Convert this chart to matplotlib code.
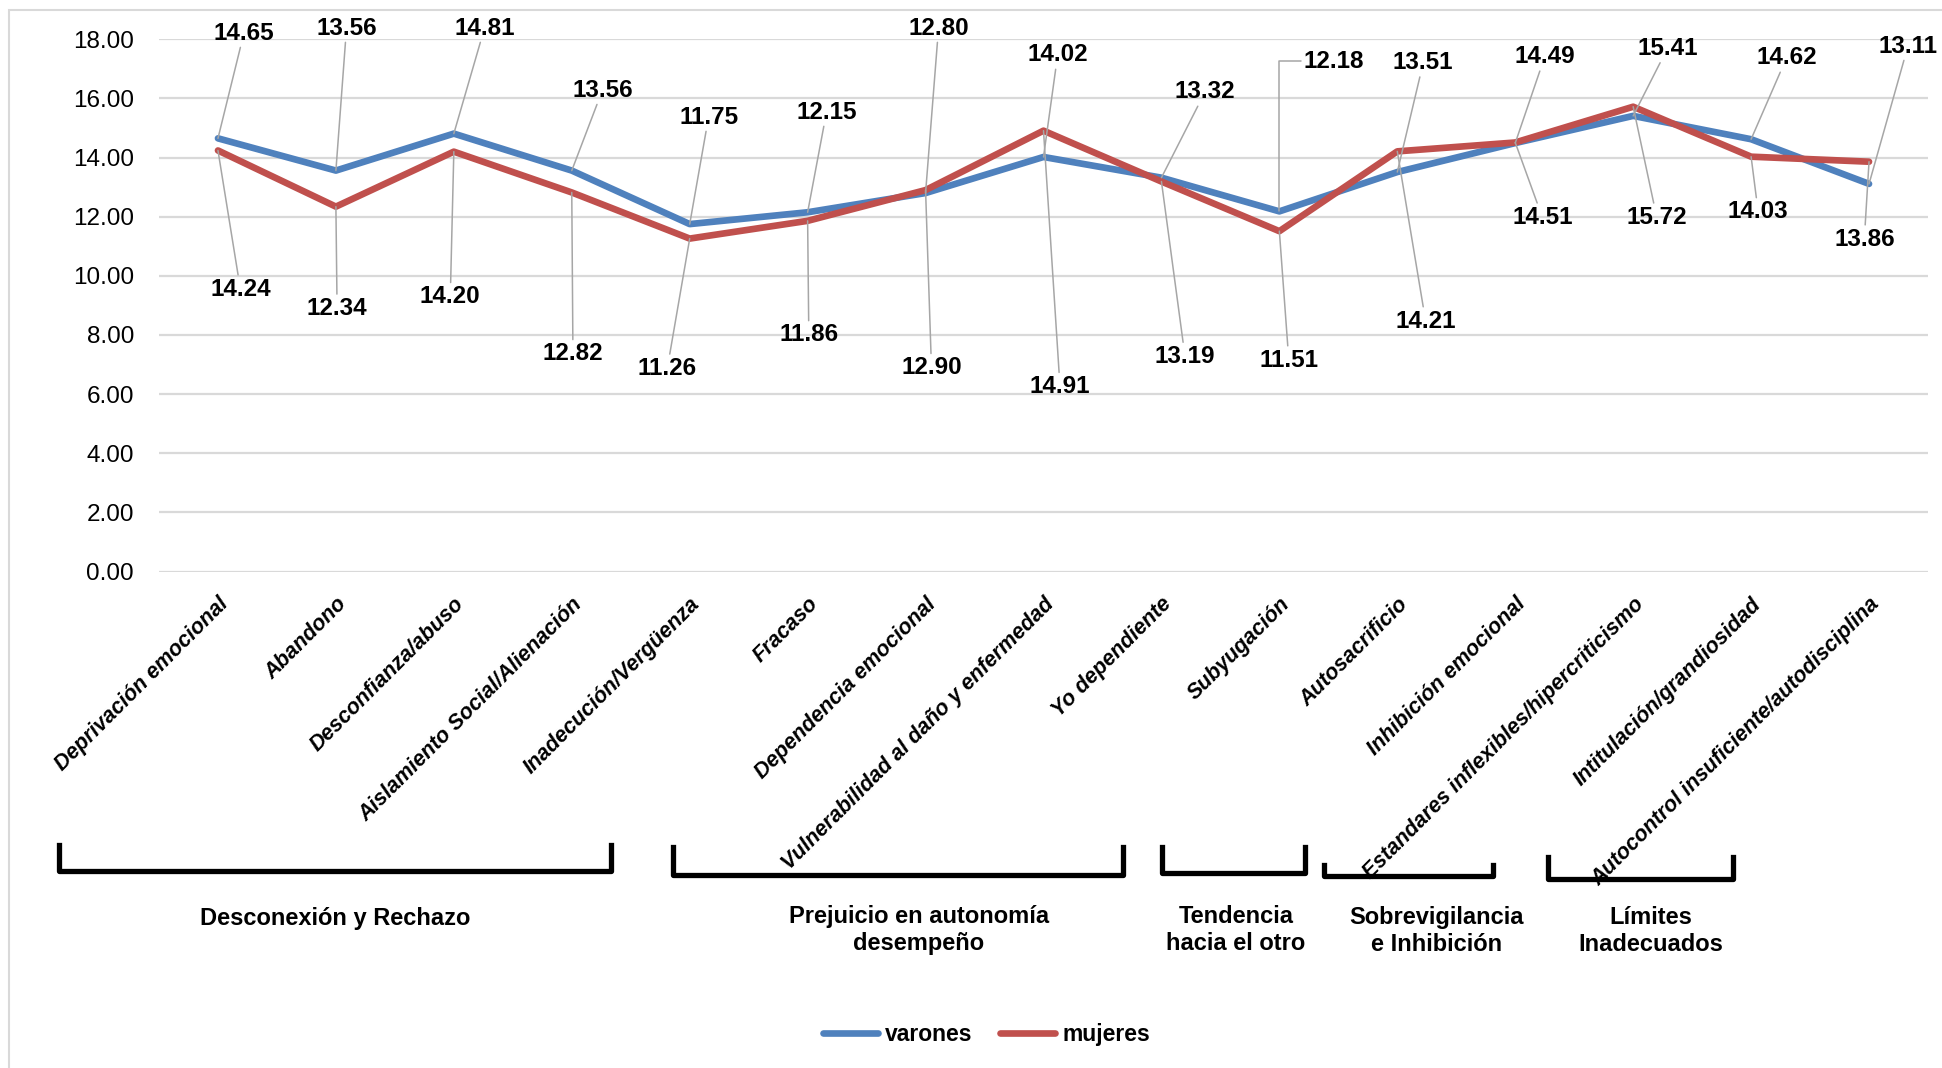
import matplotlib as mpl
import matplotlib.pyplot as plt
from matplotlib.lines import Line2D
from matplotlib.patches import Rectangle

mpl.use("agg", force=True)
plt.rcParams['font.family'] = ['Liberation Sans', 'DejaVu Sans']

categories = ['Deprivación emocional', 'Abandono', 'Desconfianza/abuso',
              'Aislamiento Social/Alienación', 'Inadecución/Vergüenza', 'Fracaso',
              'Dependencia emocional', 'Vulnerabilidad al daño y enfermedad',
              'Yo dependiente', 'Subyugación', 'Autosacrificio', 'Inhibición emocional',
              'Estandares inflexibles/hipercriticismo', 'Intitulación/grandiosidad',
              'Autocontrol insuficiente/autodisciplina']
varones = [14.65, 13.56, 14.81, 13.56, 11.75, 12.15, 12.80, 14.02, 13.32, 12.18,
           13.51, 14.49, 15.41, 14.62, 13.11]
mujeres = [14.24, 12.34, 14.20, 12.82, 11.26, 11.86, 12.90, 14.91, 13.19, 11.51,
           14.21, 14.51, 15.72, 14.03, 13.86]
groups = ['Desconexión y Rechazo', 'Prejuicio en autonomía\ndesempeño',
          'Tendencia\nhacia el otro', 'Sobrevigilancia\ne Inhibición',
          'Límites\nInadecuados']

# label placement (data coords) for the value labels
lab_v = [(0.22, 18.21), (1.09, 18.38), (2.26, 18.38), (3.26, 16.28), (4.16, 15.37),
         (5.16, 15.54), (6.11, 18.38), (7.12, 17.47), (8.37, 16.22), (9.46, 17.26),
         (10.22, 17.21), (11.25, 17.41), (12.29, 17.69), (13.30, 17.37), (14.33, 17.77)]
lab_m = [(0.19, 9.55), (1.01, 8.90), (1.97, 9.29), (3.01, 7.36), (3.81, 6.87),
         (5.01, 8.00), (6.05, 6.89), (7.14, 6.25), (8.20, 7.27), (9.08, 7.15),
         (10.24, 8.47), (11.23, 11.98), (12.20, 11.98), (13.06, 12.16), (13.96, 11.24)]

# group brackets in figure pixels: x0, x1, top, bottom ; label centre x, y
W, H = 1942, 1068
brackets = [(59, 611, 845, 871), (673, 1123, 847, 875), (1162, 1305, 847, 873),
            (1324, 1493, 865, 876), (1548, 1733, 857, 879)]
group_pos = [(335, 918), (919, 930), (1236, 930), (1437, 931), (1651, 931)]

blue = '#4F81BD'
red = '#C0504D'
lead = '#A6A6A6'

fig = plt.figure(figsize=(W / 100, H / 100), dpi=100)
fig.patches.append(Rectangle((9 / W, -0.01), 1.02, 1 - 10 / H + 0.01,
                             transform=fig.transFigure, fill=False,
                             edgecolor='#D9D9D9', linewidth=1.5, zorder=0))

ax = fig.add_axes([159 / W, 1 - 571.5 / H, (1928 - 159) / W, (571.5 - 39.3) / H])
x = list(range(len(categories)))

ax.plot(x, varones, color=blue, linewidth=4.8, solid_joinstyle='round',
        solid_capstyle='round', label='varones', zorder=2)
ax.plot(x, mujeres, color=red, linewidth=4.8, solid_joinstyle='round',
        solid_capstyle='round', label='mujeres', zorder=2.1)

for i in x:
    style = dict(arrowstyle='-', color=lead, linewidth=1.1, shrinkA=0, shrinkB=0)
    if i == 9:
        style['connectionstyle'] = 'angle,angleA=0,angleB=90,rad=0'
    ax.annotate('%.2f' % varones[i], xy=(i, varones[i]), xytext=lab_v[i],
                ha='center', va='center', fontsize=17.5, fontweight='bold',
                arrowprops=style, annotation_clip=False)
    ax.annotate('%.2f' % mujeres[i], xy=(i, mujeres[i]), xytext=lab_m[i],
                ha='center', va='center', fontsize=17.5, fontweight='bold',
                arrowprops=dict(arrowstyle='-', color=lead, linewidth=1.1,
                                shrinkA=0, shrinkB=0),
                annotation_clip=False)

ax.set_xlim(-0.5, len(categories) - 0.5)
ax.set_ylim(0, 18)
ax.set_yticks(range(0, 19, 2))
ax.set_yticklabels(['%.2f' % v for v in range(0, 19, 2)], fontsize=17.5)
ax.set_xticks(x)
ax.set_xticklabels(categories, rotation=45, ha='right', va='top',
                   rotation_mode='anchor', fontsize=15.5,
                   fontweight='bold', fontstyle='italic')
ax.tick_params(axis='both', length=0)
ax.tick_params(axis='y', pad=18)
ax.tick_params(axis='x', pad=16)
ax.grid(axis='y', color='#D9D9D9', linewidth=1.6)
ax.set_axisbelow(True)
for s in ax.spines.values():
    s.set_visible(False)

for (x0, x1, top, bot) in brackets:
    xs = [x0 / W, x0 / W, x1 / W, x1 / W]
    ys = [1 - top / H, 1 - bot / H, 1 - bot / H, 1 - top / H]
    fig.add_artist(Line2D(xs, ys, color='black', linewidth=3.8,
                          solid_joinstyle='round', transform=fig.transFigure))

for name, (gx, gy) in zip(groups, group_pos):
    fig.text(gx / W, 1 - gy / H, name, ha='center', va='center', fontsize=17,
             fontweight='bold', linespacing=1.25)

fig.legend(loc='center', bbox_to_anchor=(0.508, 0.031), ncol=2, frameon=False,
           prop={'weight': 'bold', 'size': 16.5}, handlelength=2.4,
           handletextpad=0.3, columnspacing=1.2)

plt.savefig('out.png', dpi=100)
plt.close()
